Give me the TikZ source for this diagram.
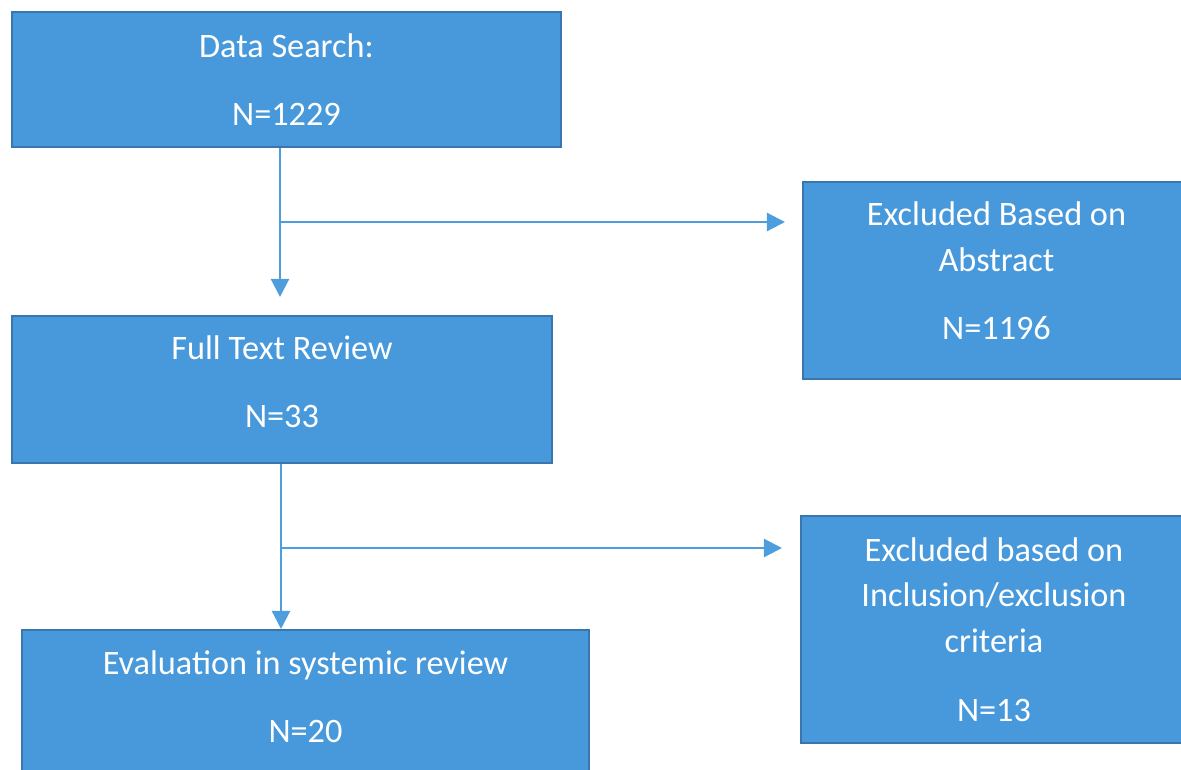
\documentclass[tikz,border=0pt]{standalone}
\usepackage{fontspec}
\setmainfont{Carlito}
\usetikzlibrary{arrows.meta}
\definecolor{boxfill}{HTML}{4799DB}
\definecolor{boxline}{HTML}{3A76AE}
\definecolor{flowline}{HTML}{4E9EDD}
\begin{document}
\begin{tikzpicture}[x=0.02cm,y=-0.02cm,
		box/.style={draw=boxline,line width=1.2pt,fill=boxfill,inner sep=0pt,
			text=white,align=center,font=\fontsize{19.5}{26}\selectfont},
		flow/.style={draw=flowline,line width=1.3pt,-{Triangle[length=0.36cm,width=0.36cm]}}]
		\useasboundingbox (0,0) rectangle (1181,769);
		% Kästen
		\node[box,minimum width=10.98cm,minimum height=2.7cm] (search) at (286.5,79.5)
			{Data Search:\\[0.45cm] N=1229};
		\node[box,minimum width=7.74cm,minimum height=3.94cm,text depth=0.4cm] (abstract) at (996.5,280.5)
			{Excluded Based on\\ Abstract\\[0.45cm] N=1196};
		\node[box,minimum width=10.8cm,minimum height=2.94cm,text depth=0.3cm] (fulltext) at (282,389.5)
			{Full Text Review\\[0.45cm] N=33};
		\node[box,minimum width=7.72cm,minimum height=4.54cm] (excl) at (994,629.5)
			{Excluded based on\\ Inclusion/exclusion\\ criteria\\[0.46cm] N=13};
		\node[box,minimum width=11.34cm,minimum height=2.94cm,text depth=0.28cm] (eval) at (305.5,703.5)
			{Evaluation in systemic review\\[0.45cm] N=20};
		% Verzweigungen
		\coordinate (j1) at (280,222);
		\coordinate (j2) at (281,548);
		\draw[flow,shorten >=0.36cm] (search.south -| j1) -- (fulltext.north -| j1);
		\draw[flow,shorten >=0.34cm] (j1) -- (abstract.west |- j1);
		\draw[flow] (fulltext.south -| j2) -- (eval.north -| j2);
		\draw[flow,shorten >=0.36cm] (j2) -- (excl.west |- j2);
\end{tikzpicture}
\end{document}
